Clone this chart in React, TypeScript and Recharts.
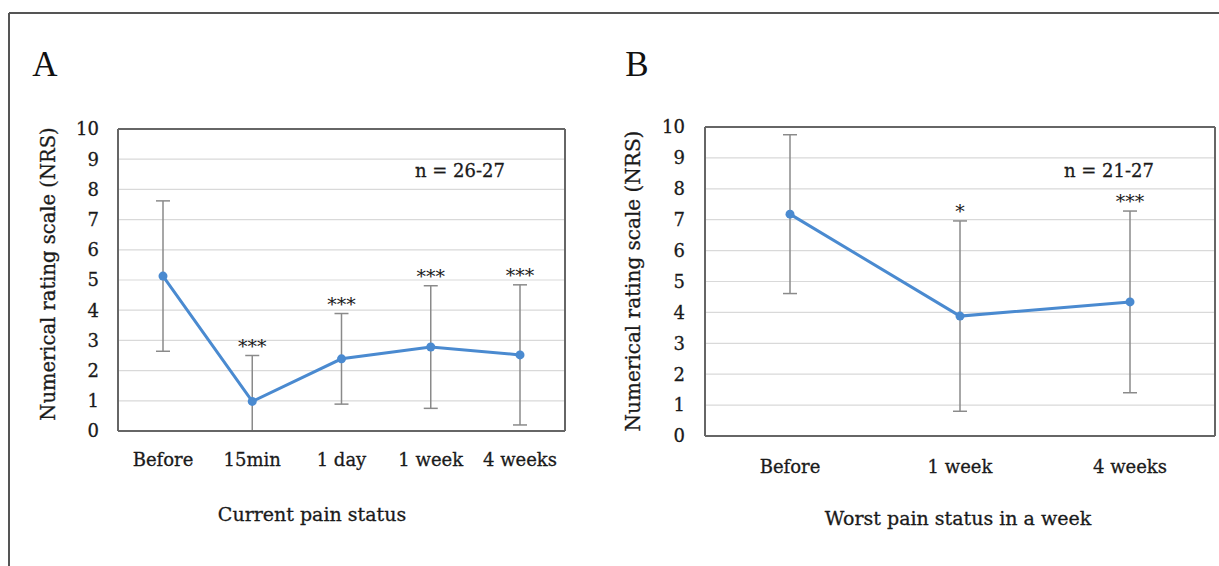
import React from 'react';
import { LineChart, Line, XAxis, YAxis, CartesianGrid, ErrorBar, LabelList } from 'recharts';

const catsA = ['Before', '15min', '1 day', '1 week', '4 weeks'];
const meanA = [5.13, 0.98, 2.39, 2.78, 2.52];
const sdA = [2.49, 1.52, 1.5, 2.03, 2.32];
const sigA = ['', '***', '***', '***', '***'];

const catsB = ['Before', '1 week', '4 weeks'];
const meanB = [7.18, 3.88, 4.34];
const sdB = [2.57, 3.08, 2.94];
const sigB = ['', '*', '***'];

const yTicks = [0, 1, 2, 3, 4, 5, 6, 7, 8, 9, 10];

const FONT = 'DejaVu Serif';
const BLUE = '#4a8ad0';
const AXIS = '#666666';
const TEXT = '#1a1a1a';

type Row = { cat: string; mean: number; err: [number, number]; upper: number; sig: string };

// error bars are clipped at the scale floor (0), as in the figure
const build = (cats: string[], mean: number[], sd: number[], sig: string[]): Row[] =>
  cats.map((c, i) => ({
    cat: c,
    mean: mean[i],
    err: [Math.min(sd[i], mean[i]), sd[i]],
    upper: mean[i] + sd[i],
    sig: sig[i],
  }));

const dataA = build(catsA, meanA, sdA, sigA);
const dataB = build(catsB, meanB, sdB, sigB);

type PanelProps = {
  data: Row[];
  width: number;
  margin: { top: number; right: number; bottom: number; left: number };
  pad: number;
  yTickMargin: number;
  xTickMargin: number;
};

const tickStyle = { fill: TEXT, fontSize: 18, fontFamily: FONT, stroke: TEXT, strokeWidth: 0.3 };

function Panel({ data, width, margin, pad, yTickMargin, xTickMargin }: PanelProps) {
  return (
    <LineChart width={width} height={566} data={data} margin={margin}>
      <CartesianGrid vertical={false} stroke="#d9d9d9" strokeWidth={1.2} />
      <XAxis
        dataKey="cat"
        padding={{ left: pad, right: pad }}
        height={40}
        tickLine={false}
        tickSize={6}
        tickMargin={xTickMargin}
        axisLine={{ stroke: AXIS, strokeWidth: 2 }}
        tick={tickStyle}
        interval={0}
      />
      <XAxis
        xAxisId="top"
        dataKey="cat"
        orientation="top"
        padding={{ left: pad, right: pad }}
        height={1}
        tick={false}
        tickLine={false}
        axisLine={{ stroke: AXIS, strokeWidth: 2 }}
      />
      <YAxis
        domain={[0, 10]}
        ticks={yTicks}
        allowDataOverflow
        width={60}
        tickLine={false}
        tickSize={6}
        tickMargin={yTickMargin}
        axisLine={{ stroke: AXIS, strokeWidth: 2 }}
        tick={tickStyle}
        interval={0}
      />
      <YAxis
        yAxisId="right"
        orientation="right"
        type="number"
        domain={[0, 10]}
        ticks={yTicks}
        allowDataOverflow
        width={1}
        tick={false}
        tickLine={false}
        axisLine={{ stroke: AXIS, strokeWidth: 2 }}
      />
      <Line
        dataKey="upper"
        xAxisId="top"
        yAxisId="right"
        stroke="none"
        strokeOpacity={0}
        dot={false}
        activeDot={false}
        isAnimationActive={false}
      >
        <LabelList
          dataKey="sig"
          position="top"
          offset={3}
          fill={TEXT}
          fontSize={19}
          fontFamily={FONT}
        />
      </Line>
      <Line
        dataKey="mean"
        stroke={BLUE}
        strokeWidth={3}
        dot={{ r: 4.5, fill: BLUE, stroke: BLUE, strokeWidth: 0 }}
        activeDot={false}
        isAnimationActive={false}
      >
        <ErrorBar dataKey="err" width={7} stroke="#8a8a8a" strokeWidth={1.5} direction="y" />
      </Line>
    </LineChart>
  );
}

export default function App() {
  const t = { fontFamily: FONT, fill: TEXT, stroke: TEXT, strokeWidth: 0.3 } as const;
  return (
    <div style={{ position: 'absolute', left: 0, top: 0, width: 1219, height: 566, background: '#fff', overflow: 'hidden' }}>
      <div style={{ position: 'absolute', left: 0, top: 0 }}>
        <Panel
          data={dataA}
          width={620}
          margin={{ top: 128, right: 54, bottom: 95, left: 58 }}
          pad={45}
          yTickMargin={13}
          xTickMargin={16}
        />
      </div>
      <div style={{ position: 'absolute', left: 600, top: 0 }}>
        <Panel
          data={dataB}
          width={619}
          margin={{ top: 126, right: 3, bottom: 90, left: 45 }}
          pad={85}
          yTickMargin={14}
          xTickMargin={18}
        />
      </div>
      <svg width={1219} height={566} style={{ position: 'absolute', left: 0, top: 0, pointerEvents: 'none' }}>
        <line x1={9} y1={13} x2={1219} y2={13} stroke="#555" strokeWidth={2} />
        <line x1={9} y1={13} x2={9} y2={566} stroke="#555" strokeWidth={2} />
        <text x={45} y={76} textAnchor="middle" fontFamily="Liberation Serif" fontSize={35} fill="#111">A</text>
        <text x={637} y={76} textAnchor="middle" fontFamily="Liberation Serif" fontSize={35} fill="#111">B</text>
        <text x={460} y={177} textAnchor="middle" fontSize={18} {...t}>n = 26-27</text>
        <text x={1109} y={177} textAnchor="middle" fontSize={18} {...t}>n = 21-27</text>
        <text x={312} y={521} textAnchor="middle" fontSize={19} {...t}>Current pain status</text>
        <text x={958} y={525} textAnchor="middle" fontSize={19} {...t}>Worst pain status in a week</text>
        <text
          x={48}
          y={274}
          textAnchor="middle"
          dominantBaseline="central"
          fontSize={19.5}
          transform="rotate(-90 48 274)"
          {...t}
        >
          Numerical rating scale (NRS)
        </text>
        <text
          x={633}
          y={281}
          textAnchor="middle"
          dominantBaseline="central"
          fontSize={20}
          transform="rotate(-90 633 281)"
          {...t}
        >
          Numerical rating scale (NRS)
        </text>
      </svg>
    </div>
  );
}
